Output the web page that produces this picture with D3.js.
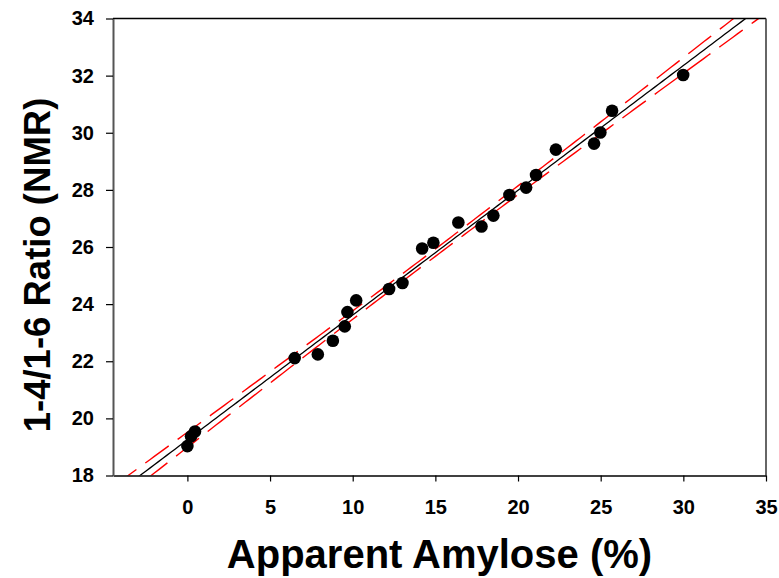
<!DOCTYPE html>
<html lang="en">
<head>
    <meta charset="UTF-8">
    <title>Amylose vs NMR ratio</title>
    <script src="https://d3js.org/d3.v7.min.js"></script>
    <style>
        body, html {
            margin: 0;
            background-color: #ffffff;
            font-family: 'Liberation Sans', Arial, sans-serif;
        }
        .tick text {
            font-family: 'Liberation Sans', Arial, sans-serif;
            font-weight: 700;
            font-size: 20px;
            fill: #000;
        }
        .axis-title {
            font-family: 'Liberation Sans', Arial, sans-serif;
            font-weight: 700;
        }
    </style>
</head>
<body>
<svg id="chart" width="779" height="578"></svg>

<script>
    // Apparent amylose (%) and 1-4/1-6 ratio
    const amylose = [0, 0.22, 0.46, 6.49, 7.89, 8.8, 9.52, 9.68, 10.21, 12.2, 13.01, 14.2,
        14.88, 16.39, 17.79, 18.51, 19.48, 20.49, 21.09, 22.29, 24.6, 24.98, 25.69, 29.99];
    const ratio = [19.03, 19.37, 19.54, 22.11, 22.24, 22.72, 23.22, 23.72, 24.13, 24.53, 24.74, 25.95,
        26.15, 26.86, 26.72, 27.1, 27.82, 28.08, 28.52, 29.41, 29.62, 30.01, 30.77, 32.02];

    const xTicks = [0, 5, 10, 15, 20, 25, 30, 35];
    const yTicks = [18, 20, 22, 24, 26, 28, 30, 32, 34];
    const xDomain = [-4.5, 35];
    const yDomain = [18, 34];

    const width = 779, height = 578;
    const margin = {top: 18.5, right: 13, bottom: 102.5, left: 113};

    const svg = d3.select("#chart");

    const x = d3.scaleLinear().domain(xDomain).range([margin.left, width - margin.right]);
    const y = d3.scaleLinear().domain(yDomain).range([height - margin.bottom, margin.top]);

    // linear regression with 95% confidence band
    const n = amylose.length;
    const mx = d3.mean(amylose), my = d3.mean(ratio);
    let sxx = 0, sxy = 0;
    for (let i = 0; i < n; i++) {
        sxx += (amylose[i] - mx) ** 2;
        sxy += (amylose[i] - mx) * (ratio[i] - my);
    }
    const slope = sxy / sxx;
    const intercept = my - slope * mx;
    let sse = 0;
    for (let i = 0; i < n; i++) {
        sse += (ratio[i] - (intercept + slope * amylose[i])) ** 2;
    }
    const s = Math.sqrt(sse / (n - 2));
    const tCrit = 2.074; // t(0.975, 22)

    const xs = d3.range(xDomain[0], xDomain[1] + 0.01, 0.25);
    const fit = xs.map(v => [v, intercept + slope * v]);
    const half = v => tCrit * s * Math.sqrt(1 / n + (v - mx) ** 2 / sxx);
    const upper = xs.map(v => [v, intercept + slope * v + half(v)]);
    const lower = xs.map(v => [v, intercept + slope * v - half(v)]);

    svg.append("clipPath").attr("id", "plotClip")
        .append("rect")
        .attr("x", margin.left)
        .attr("y", margin.top)
        .attr("width", width - margin.left - margin.right)
        .attr("height", height - margin.top - margin.bottom);

    const line = d3.line().x(d => x(d[0])).y(d => y(d[1]));

    const plot = svg.append("g").attr("clip-path", "url(#plotClip)");

    plot.append("path")
        .attr("d", line(fit))
        .attr("fill", "none")
        .attr("stroke", "#000")
        .attr("stroke-width", 1.3);

    [upper, lower].forEach(band => {
        plot.append("path")
            .attr("d", line(band))
            .attr("fill", "none")
            .attr("stroke", "#ff0000")
            .attr("stroke-width", 1.4)
            .attr("stroke-dasharray", "29,11");
    });

    svg.append("g")
        .selectAll("circle")
        .data(amylose.map((v, i) => [v, ratio[i]]))
        .join("circle")
        .attr("cx", d => x(d[0]))
        .attr("cy", d => y(d[1]))
        .attr("r", 6.3)
        .attr("fill", "#000");

    // top and right frame
    svg.append("line")
        .attr("x1", margin.left).attr("x2", width - margin.right)
        .attr("y1", margin.top).attr("y2", margin.top)
        .attr("stroke", "#000").attr("stroke-width", 1.3);
    svg.append("line")
        .attr("x1", width - margin.right).attr("x2", width - margin.right)
        .attr("y1", margin.top).attr("y2", height - margin.bottom)
        .attr("stroke", "#333").attr("stroke-width", 1.5);

    // axes
    const xAxis = svg.append("g")
        .attr("transform", `translate(0,${height - margin.bottom})`)
        .call(d3.axisBottom(x).tickValues(xTicks).tickSize(6).tickPadding(18).tickSizeOuter(0));
    xAxis.select(".domain").attr("stroke", "#000").attr("stroke-width", 1.3);
    xAxis.selectAll(".tick line").attr("stroke", "#000").attr("stroke-width", 1.2);

    const yAxis = svg.append("g")
        .attr("transform", `translate(${margin.left},0)`)
        .call(d3.axisLeft(y).tickValues(yTicks).tickSize(7).tickPadding(12).tickSizeOuter(0));
    yAxis.select(".domain").attr("stroke", "#555").attr("stroke-width", 2);
    yAxis.selectAll(".tick line").attr("stroke", "#000").attr("stroke-width", 1.2);

    // axis titles
    svg.append("text")
        .attr("class", "axis-title")
        .attr("x", (margin.left + width - margin.right) / 2)
        .attr("y", 568)
        .attr("text-anchor", "middle")
        .attr("font-size", 40)
        .text("Apparent Amylose (%)");

    svg.append("text")
        .attr("class", "axis-title")
        .attr("transform", "translate(50,265) rotate(-90)")
        .attr("text-anchor", "middle")
        .attr("font-size", 36.5)
        .text("1-4/1-6 Ratio (NMR)");
</script>
</body>
</html>
